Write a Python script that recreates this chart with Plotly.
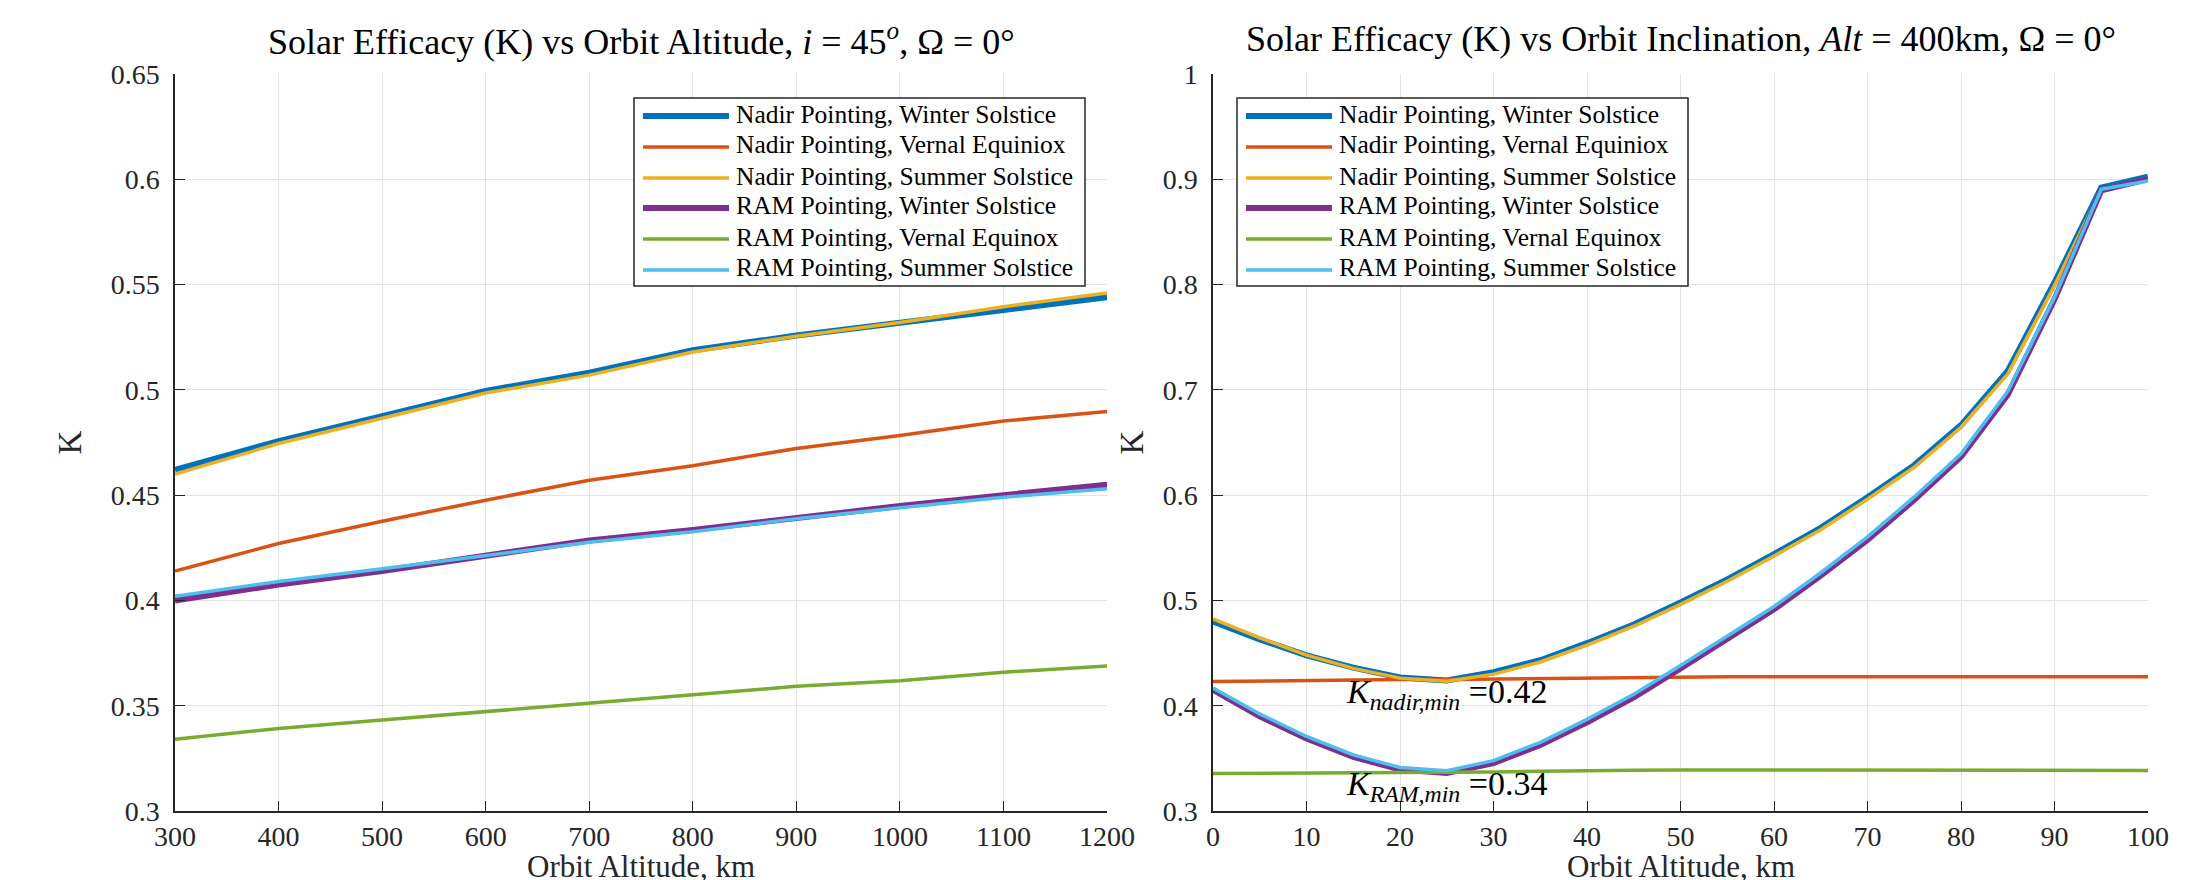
import plotly.graph_objects as go

# ---------------- data ----------------
alt_km = [300, 400, 500, 600, 700, 800, 900, 1000, 1100, 1200]
alt_nadir_ws = [0.4620, 0.4757, 0.4875, 0.4995, 0.5082, 0.5188, 0.5258, 0.5320, 0.5385, 0.5440]
alt_nadir_ve = [0.4140, 0.4270, 0.4376, 0.4476, 0.4571, 0.4640, 0.4722, 0.4783, 0.4852, 0.4897]
alt_nadir_ss = [0.4600, 0.4745, 0.4865, 0.4985, 0.5070, 0.5180, 0.5255, 0.5320, 0.5395, 0.5460]
alt_ram_ws = [0.4000, 0.4075, 0.4140, 0.4215, 0.4285, 0.4335, 0.4395, 0.4448, 0.4500, 0.4550]
alt_ram_ve = [0.3341, 0.3392, 0.3432, 0.3471, 0.3513, 0.3552, 0.3592, 0.3619, 0.3659, 0.3689]
alt_ram_ss = [0.4020, 0.4090, 0.4150, 0.4212, 0.4276, 0.4326, 0.4388, 0.4440, 0.4490, 0.4530]

inc_deg = [0, 5, 10, 15, 20, 25, 30, 35, 40, 45, 50, 55, 60, 65, 70, 75, 80, 85, 90, 95, 100]
inc_nadir_ws = [0.4800, 0.4630, 0.4478, 0.4362, 0.4268, 0.4240, 0.4318, 0.4432, 0.4594, 0.4772,
                0.4980, 0.5200, 0.5440, 0.5690, 0.5980, 0.6285, 0.6665, 0.7180, 0.8020, 0.8920, 0.9025]
inc_nadir_ve = [0.4229, 0.4235, 0.4240, 0.4245, 0.4248, 0.4250, 0.4255, 0.4260, 0.4262, 0.4266,
                0.4270, 0.4275, 0.4275, 0.4275, 0.4275, 0.4275, 0.4275, 0.4275, 0.4275, 0.4275, 0.4275]
inc_nadir_ss = [0.4825, 0.4645, 0.4480, 0.4355, 0.4262, 0.4232, 0.4300, 0.4415, 0.4576, 0.4755,
                0.4962, 0.5182, 0.5422, 0.5672, 0.5962, 0.6265, 0.6645, 0.7150, 0.7990, 0.8905, 0.9010]
inc_ram_ws = [0.4150, 0.3900, 0.3688, 0.3515, 0.3393, 0.3360, 0.3455, 0.3628, 0.3843, 0.4080,
              0.4355, 0.4635, 0.4915, 0.5235, 0.5575, 0.5955, 0.6365, 0.6955, 0.7860, 0.8895, 0.9000]
inc_ram_ve = [0.3356, 0.3358, 0.3358, 0.3360, 0.3362, 0.3365, 0.3370, 0.3378, 0.3385, 0.3388,
              0.3390, 0.3390, 0.3390, 0.3390, 0.3390, 0.3385, 0.3385, 0.3385, 0.3385, 0.3385, 0.3385]
inc_ram_ss = [0.4168, 0.3922, 0.3708, 0.3533, 0.3413, 0.3382, 0.3478, 0.3652, 0.3870, 0.4108,
              0.4383, 0.4663, 0.4943, 0.5263, 0.5603, 0.5983, 0.6393, 0.6985, 0.7880, 0.8905, 0.8985]

series_names = ["Nadir Pointing, Winter Solstice", "Nadir Pointing, Vernal Equiniox",
                "Nadir Pointing, Summer Solstice", "RAM Pointing, Winter Solstice",
                "RAM Pointing, Vernal Equinox", "RAM Pointing, Summer Solstice"]
series_colors = ["#0072BD", "#D95319", "#EDB120", "#7E2F8E", "#77AC30", "#4DBEEE"]
series_widths = [6, 3.5, 3.5, 6, 3.5, 3.5]

left_ticks = [0.3, 0.35, 0.4, 0.45, 0.5, 0.55, 0.6, 0.65]
left_ticktext = ["0.3", "0.35", "0.4", "0.45", "0.5", "0.55", "0.6", "0.65"]
right_ticks = [0.3, 0.4, 0.5, 0.6, 0.7, 0.8, 0.9, 1.0]
right_ticktext = ["0.3", "0.4", "0.5", "0.6", "0.7", "0.8", "0.9", "1"]
alt_ticks = [300, 400, 500, 600, 700, 800, 900, 1000, 1100, 1200]
inc_ticks = [0, 10, 20, 30, 40, 50, 60, 70, 80, 90, 100]

left_title = "Solar Efficacy (K) vs Orbit Altitude, <i>i</i> = 45<sup><i>o</i></sup>, Ω = 0°"
right_title = "Solar Efficacy (K) vs Orbit Inclination, <i>Alt</i> = 400km, Ω = 0°"
xlabel = "Orbit Altitude, km"
ylabel = "K"
ann_nadir = "<i>K</i><sub><i>nadir,min</i></sub> =0.42"
ann_ram = "<i>K</i><sub><i>RAM,min</i></sub> =0.34"

# ---------------- figure ----------------
FONT = "Liberation Serif"
W, H = 2197, 880
fig = go.Figure()

left_sets = [alt_nadir_ws, alt_nadir_ve, alt_nadir_ss, alt_ram_ws, alt_ram_ve, alt_ram_ss]
right_sets = [inc_nadir_ws, inc_nadir_ve, inc_nadir_ss, inc_ram_ws, inc_ram_ve, inc_ram_ss]

for name, col, w, ys in zip(series_names, series_colors, series_widths, left_sets):
    fig.add_trace(go.Scatter(x=alt_km, y=ys, mode="lines", name=name, showlegend=False,
                             line=dict(color=col, width=w), xaxis="x", yaxis="y"))
for name, col, w, ys in zip(series_names, series_colors, series_widths, right_sets):
    fig.add_trace(go.Scatter(x=inc_deg, y=ys, mode="lines", name=name, showlegend=False,
                             line=dict(color=col, width=w), xaxis="x2", yaxis="y2"))

def px_x(p):
    return p / W

def px_y(p):
    return 1 - p / H

TICK_SIZE = 28
LABEL_SIZE = 31
TITLE_SIZE = 36
LEGEND_SIZE = 25.5
ANN_SIZE = 34

axis_common = dict(showgrid=True, gridcolor="#e3e3e3", gridwidth=1,
                   showline=True, linecolor="#262626", linewidth=1.5,
                   ticks="inside", ticklen=10, tickwidth=1.2, tickcolor="#262626",
                   tickfont=dict(family=FONT, size=TICK_SIZE, color="#262626"),
                   zeroline=False, mirror=False, automargin=False)

fig.update_layout(
    width=W, height=H,
    margin=dict(l=0, r=0, t=0, b=0),
    paper_bgcolor="white", plot_bgcolor="white",
    font=dict(family=FONT, color="#262626"),
    showlegend=False,
    xaxis=dict(domain=[px_x(167), px_x(1099)], range=[300, 1200], anchor="y",
               tickvals=alt_ticks, **axis_common),
    yaxis=dict(domain=[px_y(803), px_y(66)], range=[0.3, 0.65], anchor="x",
               tickvals=left_ticks, ticktext=left_ticktext, ticklabelstandoff=8,
               **axis_common),
    xaxis2=dict(domain=[px_x(1205), px_x(2140)], range=[0, 100], anchor="y2",
                tickvals=inc_ticks, **axis_common),
    yaxis2=dict(domain=[px_y(803), px_y(66)], range=[0.3, 1.0], anchor="x2",
                tickvals=right_ticks, ticktext=right_ticktext, ticklabelstandoff=8,
                **axis_common),
)

def paper_text(text, x, y, size, color="black", angle=0, xanchor="center", yanchor="middle"):
    return dict(text=text, x=x, y=y, xref="paper", yref="paper",
                xanchor=xanchor, yanchor=yanchor, showarrow=False, textangle=angle,
                font=dict(family=FONT, size=size, color=color))

annotations = [
    paper_text(left_title, (px_x(167) + px_x(1099)) / 2, px_y(31), TITLE_SIZE),
    paper_text(right_title, (px_x(1205) + px_x(2140)) / 2, px_y(31), TITLE_SIZE),
    paper_text(xlabel, (px_x(167) + px_x(1099)) / 2, px_y(878), LABEL_SIZE, "#262626",
               yanchor="bottom"),
    paper_text(xlabel, (px_x(1205) + px_x(2140)) / 2, px_y(878), LABEL_SIZE, "#262626",
               yanchor="bottom"),
    paper_text(ylabel, px_x(62), (px_y(66) + px_y(803)) / 2, LABEL_SIZE + 2, "#262626", -90),
    paper_text(ylabel, px_x(1124), (px_y(66) + px_y(803)) / 2, LABEL_SIZE + 2, "#262626", -90),
    dict(text=ann_nadir, x=14.0, y=0.411, xref="x2", yref="y2", xanchor="left", yanchor="middle",
         showarrow=False, font=dict(family=FONT, size=ANN_SIZE, color="black")),
    dict(text=ann_ram, x=14.0, y=0.324, xref="x2", yref="y2", xanchor="left", yanchor="middle",
         showarrow=False, font=dict(family=FONT, size=ANN_SIZE, color="black")),
]

# ---- legends (MATLAB-style boxes: long line samples, tight rows) ----
shapes = []
legend_boxes = [(626, 1077), (1229, 1680)]   # left/right pixel edges of each legend box
LEG_TOP, LEG_BOT = 90, 278
ROW_Y = [108, 139, 170, 200, 231, 262]
for (bx0, bx1) in legend_boxes:
    shapes.append(dict(type="rect", xref="paper", yref="paper",
                       x0=px_x(bx0), x1=px_x(bx1), y0=px_y(LEG_BOT), y1=px_y(LEG_TOP),
                       line=dict(color="#262626", width=1.5), fillcolor="white", layer="above"))
    for name, col, w, ry in zip(series_names, series_colors, series_widths, ROW_Y):
        shapes.append(dict(type="line", xref="paper", yref="paper",
                           x0=px_x(bx0 + 9), x1=px_x(bx0 + 95), y0=px_y(ry), y1=px_y(ry),
                           line=dict(color=col, width=w), layer="above"))
        annotations.append(paper_text(name, px_x(bx0 + 100), px_y(ry - 2), LEGEND_SIZE,
                                      "black", xanchor="left"))

fig.update_layout(annotations=annotations, shapes=shapes)

fig.write_html("out.html")
